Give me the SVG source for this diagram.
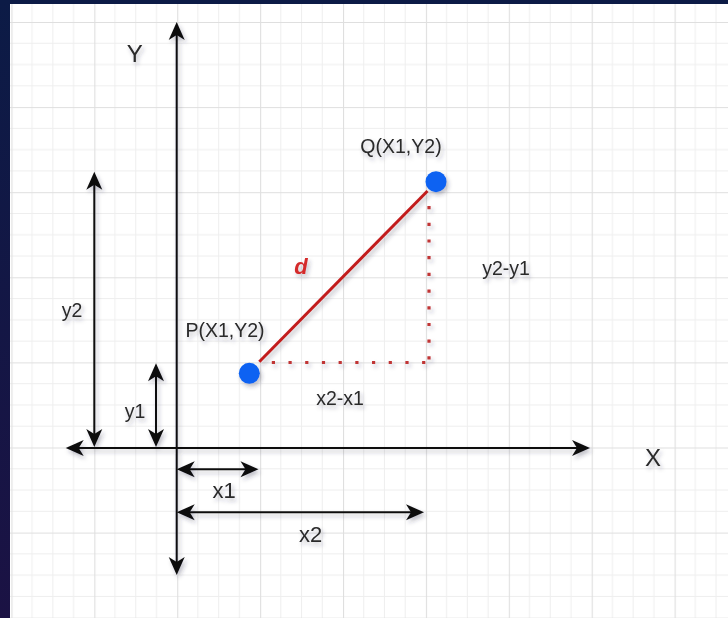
<svg xmlns="http://www.w3.org/2000/svg" width="728" height="618" viewBox="0 0 728 618">
  <defs>
    <style>
      .lbl { font-family: "Liberation Sans", Arial, sans-serif; fill: #2a2a2a; text-anchor: middle; }
      .s19 { font-size: 19.5px; }
      .s22 { font-size: 22px; }
      .s24 { font-size: 24px; }
      .ax { stroke: #111; stroke-width: 2; fill: none; marker-start: url(#arr); marker-end: url(#arr); }
      .dot { stroke: #c03535; stroke-width: 3.2; fill: none; stroke-dasharray: 3.2 13.5; }
      .pt { fill: #0a62f2; }
    </style>
    <linearGradient id="side" x1="0" y1="0" x2="0" y2="1">
      <stop offset="0" stop-color="#0c1b46"/>
      <stop offset="1" stop-color="#1b1244"/>
    </linearGradient>
    <pattern id="grid" patternUnits="userSpaceOnUse" x="11.4" y="22" width="82.9" height="85.1">
      <g stroke="#eeeeee" stroke-width="1">
        <path d="M20.7,0V85.1M41.45,0V85.1M62.2,0V85.1M0,21.3H82.9M0,42.55H82.9M0,63.8H82.9"/>
      </g>
      <path d="M0.5,0V85.1M0,0.5H82.9" stroke="#dfdfdf" stroke-width="1.2"/>
    </pattern>
    <marker id="arr" viewBox="0 0 22 20" refX="16" refY="10" markerWidth="22" markerHeight="20" markerUnits="userSpaceOnUse" orient="auto-start-reverse">
      <path d="M20,10 L2,2 L7,10 L2,18 Z" fill="#111"/>
    </marker>
    <filter id="sh" filterUnits="userSpaceOnUse" x="0" y="0" width="728" height="618">
      <feDropShadow dx="2" dy="3" stdDeviation="2" flood-color="#334" flood-opacity="0.3"/>
    </filter>
  </defs>

  <g id="background">
    <rect x="0" y="0" width="728" height="618" fill="#ffffff"/>
    <rect x="10" y="4" width="718" height="614" fill="url(#grid)"/>
    <rect x="0" y="0" width="10" height="618" fill="url(#side)"/>
    <rect x="0" y="0" width="728" height="4" fill="#0c1b46"/>
  </g>

  <g id="connectors" filter="url(#sh)">
    <path id="y-axis" class="ax" d="M176.7,26 V571"/>
    <path id="x-axis" class="ax" d="M69.7,448 H586"/>
    <path id="dim-y2" class="ax" d="M94.3,175.7 V443"/>
    <path id="dim-y1" class="ax" d="M156,367.3 V443"/>
    <path id="dim-x1" class="ax" d="M180.7,469.3 H254.5"/>
    <path id="dim-x2" class="ax" d="M180.7,512.3 H420"/>
    <path id="d-line" d="M259.3,361.7 L427.5,191" stroke="#c21d1d" stroke-width="3" fill="none"/>
    <path id="dy-dotted" class="dot" d="M429,206 V362"/>
    <path id="dx-dotted" class="dot" d="M271.8,362.5 H431"/>
  </g>

  <g id="P" filter="url(#sh)">
    <circle class="pt" cx="249.3" cy="373.3" r="10.5"/>
    <text class="lbl s19" x="225" y="337">P(X1,Y2)</text>
  </g>
  <g id="Q" filter="url(#sh)">
    <circle class="pt" cx="436" cy="181.7" r="10.5"/>
    <text class="lbl s19" x="401" y="153.3">Q(X1,Y2)</text>
  </g>

  <g id="labels" filter="url(#sh)">
    <g id="label-Y"><text class="lbl s24" x="134.7" y="61.5">Y</text></g>
    <g id="label-X"><text class="lbl s24" x="653" y="466">X</text></g>
    <g id="label-d"><text class="lbl" x="301" y="274" style="font-size:22px;font-weight:bold;font-style:italic;fill:#d42a2a">d</text></g>
    <g id="label-dy"><text class="lbl s19" x="506" y="275">y2-y1</text></g>
    <g id="label-dx"><text class="lbl s19" x="340" y="405">x2-x1</text></g>
    <g id="label-y2"><text class="lbl s19" x="72" y="317">y2</text></g>
    <g id="label-y1"><text class="lbl s19" x="135" y="418">y1</text></g>
    <g id="label-x1"><text class="lbl s22" x="224" y="498.3">x1</text></g>
    <g id="label-x2"><text class="lbl s22" x="310.5" y="541.5">x2</text></g>
  </g>
</svg>
